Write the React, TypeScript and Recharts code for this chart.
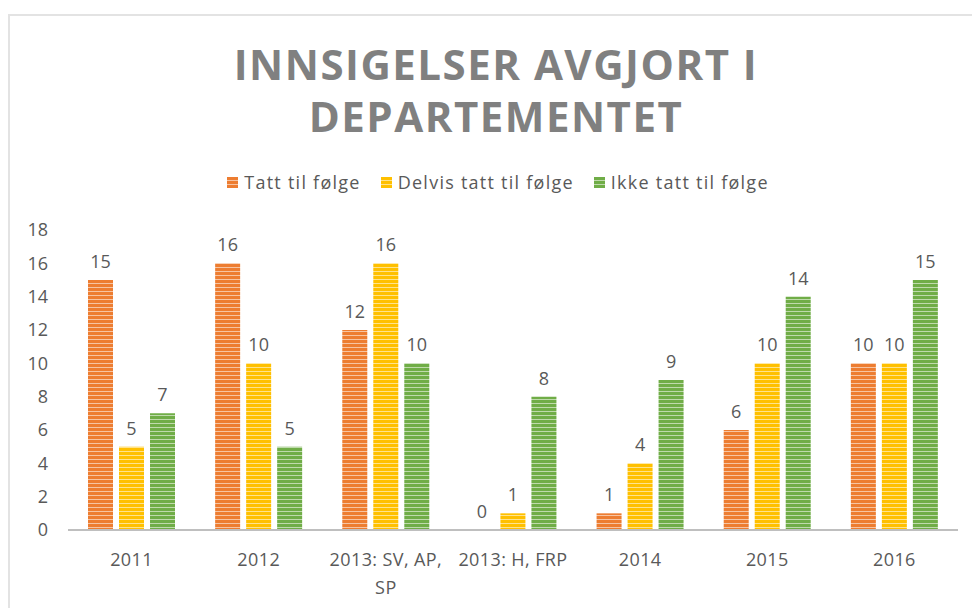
import React from 'react';
import {
  BarChart,
  Bar,
  XAxis,
  YAxis,
  LabelList,
} from 'recharts';

const categories = ['2011', '2012', '2013: SV, AP, SP', '2013: H, FRP', '2014', '2015', '2016'];
const tattTilFolge = [15, 16, 12, 0, 1, 6, 10];
const delvisTattTilFolge = [5, 10, 16, 1, 4, 10, 10];
const ikkeTattTilFolge = [7, 5, 10, 8, 9, 14, 15];
const yTicks = [0, 2, 4, 6, 8, 10, 12, 14, 16, 18];

const titleLines = ['INNSIGELSER AVGJORT I', 'DEPARTEMENTET'];

const series = [
  { key: 'tatt', name: 'Tatt til følge', color: '#ED7D31', values: tattTilFolge },
  { key: 'delvis', name: 'Delvis tatt til følge', color: '#FFC000', values: delvisTattTilFolge },
  { key: 'ikke', name: 'Ikke tatt til følge', color: '#70AD47', values: ikkeTattTilFolge },
];

const data = categories.map((name, i) => ({
  name,
  tatt: tattTilFolge[i],
  delvis: delvisTattTilFolge[i],
  ikke: ikkeTattTilFolge[i],
}));

const FONT = '"Open Sans", sans-serif';
const TEXT = '#595959';

// long category labels wrap after the second comma, like Excel does here
const splitLabel = (label: string): string[] => {
  if (label.length <= 14) return [label];
  const cut = label.lastIndexOf(', ');
  return [label.slice(0, cut + 1), label.slice(cut + 2)];
};

const XTick = (props: any) => {
  const { x, y, payload } = props;
  const lines = splitLabel(payload.value);
  return (
    <g transform={`translate(${x},${y})`}>
      {lines.map((line, i) => (
        <text
          key={i}
          x={0}
          y={28 + i * 28}
          textAnchor="middle"
          fill={TEXT}
          fontSize={18}
          fontFamily={FONT}
          letterSpacing={0.4}
        >
          {line}
        </text>
      ))}
    </g>
  );
};

// value label drawn even for zero-height bars
const ValueLabel = (props: any) => {
  const { x, y, width, value } = props;
  if (value === undefined || value === null) return null;
  return (
    <text
      x={x + width / 2}
      y={y - 12}
      textAnchor="middle"
      fill={TEXT}
      fontSize={18}
      fontFamily={FONT}
    >
      {value}
    </text>
  );
};

const LegendRow = () => (
  <div
    style={{
      position: 'absolute',
      left: 0,
      top: 170,
      width: 996,
      display: 'flex',
      justifyContent: 'center',
      fontFamily: FONT,
      fontSize: 18,
      letterSpacing: 1.25,
      color: TEXT,
    }}
  >
    {series.map((s) => (
      <div key={s.key} style={{ display: 'flex', alignItems: 'center', margin: '0 10px' }}>
        <svg width={11} height={11} style={{ marginRight: 6 }}>
          <rect width={11} height={11} fill={`url(#stripe-${s.key})`} />
        </svg>
        <span>{s.name}</span>
      </div>
    ))}
  </div>
);

const App: React.FC = () => {
  return (
    <div
      style={{
        position: 'absolute',
        left: 0,
        top: 0,
        width: 972,
        height: 608,
        overflow: 'hidden',
        background: '#fff',
      }}
    >
      {/* frame of the chart object */}
      <div
        style={{
          position: 'absolute',
          left: 8,
          top: 14,
          width: 1000,
          height: 700,
          borderTop: '2px solid #e3e3e3',
          borderLeft: '2px solid #e3e3e3',
        }}
      />

      <svg
        width={972}
        height={150}
        style={{ position: 'absolute', left: 0, top: 0 }}
      >
        {titleLines.map((line, i) => (
          <text
            key={i}
            x={496}
            y={80 + i * 52}
            textAnchor="middle"
            fill="#808080"
            fontSize={42}
            fontWeight="bold"
            fontFamily={FONT}
            letterSpacing={1.5}
          >
            {line}
          </text>
        ))}
      </svg>

      <div style={{ position: 'absolute', left: 0, top: 0 }}>
        <BarChart
          width={972}
          height={608}
          data={data}
          margin={{ top: 230, right: 14, bottom: 0, left: 8 }}
          barSize={25}
          barGap={6}
        >
          <defs>
            {series.map((s) => (
              <pattern
                key={s.key}
                id={`stripe-${s.key}`}
                width={4}
                height={4}
                patternUnits="userSpaceOnUse"
              >
                <rect width={4} height={4} fill={s.color} />
                <rect y={3} width={4} height={1} fill="#ffffff" opacity={0.55} />
              </pattern>
            ))}
          </defs>
          <XAxis
            dataKey="name"
            axisLine={{ stroke: '#bfbfbf', strokeWidth: 2 }}
            tickLine={false}
            interval={0}
            tick={<XTick />}
            height={78}
          />
          <YAxis
            width={60}
            domain={[0, 18]}
            ticks={yTicks}
            interval={0}
            axisLine={false}
            tickLine={false}
            tickMargin={14}
            tick={{ fill: TEXT, fontSize: 18, fontFamily: FONT }}
          />
          {series.map((s) => (
            <Bar
              key={s.key}
              dataKey={s.key}
              name={s.name}
              fill={`url(#stripe-${s.key})`}
              minPointSize={0.01}
              isAnimationActive={false}
            >
              <LabelList dataKey={s.key} content={<ValueLabel />} />
            </Bar>
          ))}
        </BarChart>
      </div>

      <LegendRow />
    </div>
  );
};

export default App;
